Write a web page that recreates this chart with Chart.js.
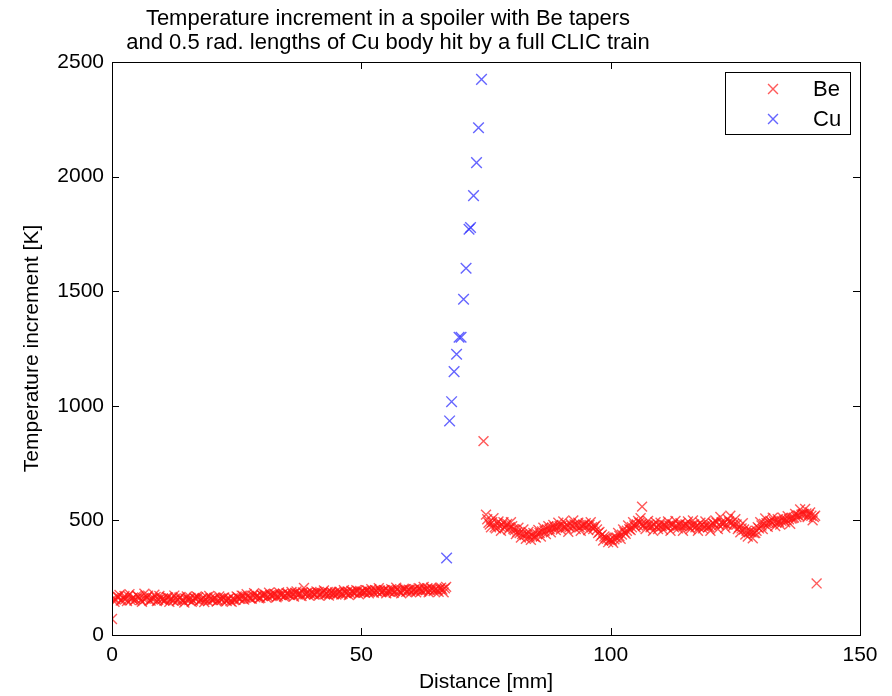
<!DOCTYPE html>
<html>
<head>
<meta charset="utf-8">
<script src="https://cdn.jsdelivr.net/npm/chart.js@4.4.1/dist/chart.umd.min.js"></script>
<style>
  html, body { margin: 0; padding: 0; background: #fff; }
  #wrap { width: 892px; height: 696px; }
</style>
</head>
<body>
<div id="wrap"><canvas id="myChart" width="892" height="696"></canvas></div>
<script>
// Be tapers: distance [mm] and temperature increment [K]
const beX = [
  0, 0.5, 1, 1.5, 2, 2.5, 3, 3.5, 4, 4.5, 5,
  5.5, 6, 6.5, 7, 7.5, 8, 8.5, 9, 9.5, 10,
  10.5, 11, 11.5, 12, 12.5, 13, 13.5, 14, 14.5, 15,
  15.5, 16, 16.5, 17, 17.5, 18, 18.5, 19, 19.5, 20,
  20.5, 21, 21.5, 22, 22.5, 23, 23.5, 24, 24.5, 25,
  25.5, 26, 26.5, 27, 27.5, 28, 28.5, 29, 29.5, 30,
  30.5, 31, 31.5, 32, 32.5, 33, 33.5, 34, 34.5, 35,
  35.5, 36, 36.5, 37, 37.5, 38, 38.5, 39, 39.5, 40,
  40.5, 41, 41.5, 42, 42.5, 43, 43.5, 44, 44.5, 45,
  45.5, 46, 46.5, 47, 47.5, 48, 48.5, 49, 49.5, 50,
  50.5, 51, 51.5, 52, 52.5, 53, 53.5, 54, 54.5, 55,
  55.5, 56, 56.5, 57, 57.5, 58, 58.5, 59, 59.5, 60,
  60.5, 61, 61.5, 62, 62.5, 63, 63.5, 64, 64.5, 65,
  65.5, 66, 66.5, 67,
  74.5,
  75, 75.5, 76, 76.5, 77, 77.5, 78, 78.5, 79, 79.5,
  80, 80.5, 81, 81.5, 82, 82.5, 83, 83.5, 84, 84.5,
  85, 85.5, 86, 86.5, 87, 87.5, 88, 88.5, 89, 89.5,
  90, 90.5, 91, 91.5, 92, 92.5, 93, 93.5, 94, 94.5,
  95, 95.5, 96, 96.5, 97, 97.5, 98, 98.5, 99, 99.5,
  100, 100.5, 101, 101.5, 102, 102.5, 103, 103.5, 104, 104.5,
  105, 105.5, 106, 106.5, 107, 107.5, 108, 108.5, 109, 109.5,
  110, 110.5, 111, 111.5, 112, 112.5, 113, 113.5, 114, 114.5,
  115, 115.5, 116, 116.5, 117, 117.5, 118, 118.5, 119, 119.5,
  120, 120.5, 121, 121.5, 122, 122.5, 123, 123.5, 124, 124.5,
  125, 125.5, 126, 126.5, 127, 127.5, 128, 128.5, 129, 129.5,
  130, 130.5, 131, 131.5, 132, 132.5, 133, 133.5, 134, 134.5,
  135, 135.5, 136, 136.5, 137, 137.5, 138, 138.5, 139, 139.5,
  140, 140.5, 141,
  106.3, 141.3
];
const beY = [
  70, 145, 168, 175, 152, 170, 148, 178, 160, 150, 172,
  162, 145, 180, 165, 150, 158, 176, 148, 170, 155,
  150, 165, 145, 160, 172, 148, 163, 152, 142, 168,
  152, 145, 162, 168, 148, 158, 144, 165, 170, 152,
  162, 146, 168, 152, 164, 148, 160, 145, 152, 168,
  158, 172, 155, 178, 165, 158, 182, 170, 160, 175,
  178, 162, 185, 170, 180, 165, 186, 174, 168, 182,
  175, 188, 168, 190, 178, 170, 205, 182, 172, 188,
  176, 190, 172, 182, 194, 180, 172, 188, 178, 176,
  188, 176, 195, 182, 174, 192, 184, 196, 178, 188,
  186, 196, 182, 200, 184, 192, 204, 186, 195, 182,
  190, 200, 184, 206, 192, 182, 202, 188, 198, 186,
  198, 186, 204, 190, 210, 196, 186, 206, 192, 200,
  188, 206, 186, 210,
  846,
  525, 490, 470, 510, 465, 495, 455, 492, 478, 460,
  492, 462, 440, 468, 425, 460, 420, 450, 415, 445,
  425, 458, 430, 468, 440, 475, 448, 480, 458, 490,
  460, 495, 468, 450, 485, 500, 462, 490, 455, 480,
  488, 458, 492, 462, 478, 445, 432, 412, 425, 405,
  418, 402, 425, 445, 420, 460, 442, 478, 458, 492,
  470, 498, 510, 478, 462, 498, 470, 455, 492, 462,
  490, 460, 478, 495, 455, 482, 498, 465, 488, 455,
  482, 495, 462, 500, 470, 455, 490, 465, 495, 470,
  455, 488, 500, 462, 515, 485, 468, 505, 520, 475,
  505, 462, 448, 488, 438, 430, 452, 422, 445, 470,
  492, 462, 508, 472, 498, 512, 475, 505, 482, 512,
  492, 518, 485, 510, 528, 522, 548, 528, 550, 515,
  535, 500, 520,
  560, 225
];
// Be points lying between the ones above
const beFillX = [
  0.25, 0.75, 1.25, 1.75, 2.25, 2.75, 3.25, 3.75, 4.25, 4.75,
  5.25, 5.75, 6.25, 6.75, 7.25, 7.75, 8.25, 8.75, 9.25, 9.75,
  10.25, 10.75, 11.25, 11.75, 12.25, 12.75, 13.25, 13.75, 14.25, 14.75,
  15.25, 15.75, 16.25, 16.75, 17.25, 17.75, 18.25, 18.75, 19.25, 19.75,
  20.25, 20.75, 21.25, 21.75, 22.25, 22.75, 23.25, 23.75, 24.25, 24.75,
  25.25, 25.75, 26.25, 26.75, 27.25, 27.75, 28.25, 28.75, 29.25, 29.75,
  30.25, 30.75, 31.25, 31.75, 32.25, 32.75, 33.25, 33.75, 34.25, 34.75,
  35.25, 35.75, 36.25, 36.75, 37.25, 37.75, 38.25, 38.75, 39.25, 39.75,
  40.25, 40.75, 41.25, 41.75, 42.25, 42.75, 43.25, 43.75, 44.25, 44.75,
  45.25, 45.75, 46.25, 46.75, 47.25, 47.75, 48.25, 48.75, 49.25, 49.75,
  50.25, 50.75, 51.25, 51.75, 52.25, 52.75, 53.25, 53.75, 54.25, 54.75,
  55.25, 55.75, 56.25, 56.75, 57.25, 57.75, 58.25, 58.75, 59.25, 59.75,
  60.25, 60.75, 61.25, 61.75, 62.25, 62.75, 63.25, 63.75, 64.25, 64.75,
  65.25, 65.75, 66.25, 66.75,
  75.25, 75.75, 76.25, 76.75, 77.25, 77.75, 78.25, 78.75, 79.25, 79.75,
  80.25, 80.75, 81.25, 81.75, 82.25, 82.75, 83.25, 83.75, 84.25, 84.75,
  85.25, 85.75, 86.25, 86.75, 87.25, 87.75, 88.25, 88.75, 89.25, 89.75,
  90.25, 90.75, 91.25, 91.75, 92.25, 92.75, 93.25, 93.75, 94.25, 94.75,
  95.25, 95.75, 96.25, 96.75, 97.25, 97.75, 98.25, 98.75, 99.25, 99.75,
  100.25, 100.75, 101.25, 101.75, 102.25, 102.75, 103.25, 103.75, 104.25, 104.75,
  105.25, 105.75, 106.25, 106.75, 107.25, 107.75, 108.25, 108.75, 109.25, 109.75,
  110.25, 110.75, 111.25, 111.75, 112.25, 112.75, 113.25, 113.75, 114.25, 114.75,
  115.25, 115.75, 116.25, 116.75, 117.25, 117.75, 118.25, 118.75, 119.25, 119.75,
  120.25, 120.75, 121.25, 121.75, 122.25, 122.75, 123.25, 123.75, 124.25, 124.75,
  125.25, 125.75, 126.25, 126.75, 127.25, 127.75, 128.25, 128.75, 129.25, 129.75,
  130.25, 130.75, 131.25, 131.75, 132.25, 132.75, 133.25, 133.75, 134.25, 134.75,
  135.25, 135.75, 136.25, 136.75, 137.25, 137.75, 138.25, 138.75, 139.25, 139.75,
  140.25, 140.75
];
const beFillY = [
  160, 155, 166, 150, 162, 158, 170, 152, 164, 156,
  168, 152, 160, 158, 172, 150, 162, 166, 154, 160,
  158, 152, 164, 156, 150, 160, 154, 166, 150, 158,
  156, 162, 150, 158, 164, 152, 160, 155, 148, 160,
  154, 160, 150, 158, 162, 152, 156, 148, 160, 154,
  164, 158, 170, 162, 168, 160, 172, 165, 170, 162,
  170, 176, 168, 174, 172, 178, 170, 176, 180, 172,
  180, 174, 178, 184, 176, 182, 186, 178, 184, 180,
  182, 178, 186, 180, 184, 178, 188, 182, 180, 186,
  182, 188, 180, 186, 190, 182, 188, 184, 192, 186,
  190, 186, 194, 188, 192, 196, 188, 194, 190, 196,
  194, 188, 196, 192, 198, 190, 194, 200, 192, 196,
  194, 200, 196, 202, 194, 198, 204, 196, 200, 198,
  196, 202, 198, 204,
  505, 482, 492, 470, 488, 475, 480, 468, 485, 470,
  475, 458, 450, 445, 440, 436, 438, 430, 432, 428,
  440, 445, 452, 455, 460, 462, 468, 470, 472, 475,
  478, 472, 480, 470, 475, 482, 478, 470, 476, 480,
  475, 480, 470, 472, 460, 450, 438, 430, 420, 415,
  412, 418, 425, 432, 438, 448, 455, 462, 470, 478,
  482, 490, 485, 480, 478, 482, 475, 480, 472, 478,
  475, 480, 472, 478, 482, 470, 476, 480, 474, 478,
  480, 472, 478, 482, 476, 470, 480, 474, 478, 472,
  478, 484, 490, 480, 492, 488, 482, 495, 490, 485,
  482, 470, 465, 460, 455, 450, 448, 445, 455, 465,
  478, 485, 488, 490, 492, 495, 490, 494, 498, 500,
  502, 505, 508, 512, 515, 520, 525, 528, 530, 525,
  520, 515
];

// Cu body
const cuX = [67.1, 67.7, 68.1, 68.6, 69.1, 69.6, 70.0, 70.5, 71.0, 71.6, 71.9, 72.5, 73.1, 73.5, 74.1];
const cuY = [336, 934, 1018, 1149, 1225, 1299, 1299, 1465, 1600, 1770, 1778, 1917, 2061, 2213, 2424];

const xTicks = [0, 50, 100, 150];
const yTicks = [0, 500, 1000, 1500, 2000, 2500];

const titleLines = [
  'Temperature increment in a spoiler with Be tapers',
  'and 0.5 rad. lengths of Cu body hit by a full CLIC train'
];

const beColor = 'rgba(255, 20, 20, 0.7)';
const cuColor = 'rgba(50, 50, 255, 0.75)';
const fontFam = '"Liberation Sans", Arial, sans-serif';

const toPoints = (xs, ys) => xs.map((x, i) => ({ x: x, y: ys[i] }));

// title, box around the axes, MATLAB style inward ticks and the legend
const frame = {
  id: 'frame',
  beforeDraw(chart) {
    const ctx = chart.ctx;
    ctx.save();
    ctx.fillStyle = '#000';
    ctx.font = '22px ' + fontFam;
    ctx.textAlign = 'center';
    ctx.textBaseline = 'middle';
    titleLines.forEach((t, i) => ctx.fillText(t, 388, 19 + i * 24));
    ctx.restore();
  },
  afterDraw(chart) {
    const ctx = chart.ctx;
    const a = chart.chartArea;
    const xs = chart.scales.x, ys = chart.scales.y;
    const len = 7;
    ctx.save();
    ctx.strokeStyle = '#000';
    ctx.lineWidth = 1;
    ctx.strokeRect(a.left + 0.5, a.top + 0.5, a.right - a.left, a.bottom - a.top);
    ctx.beginPath();
    xTicks.forEach(v => {
      const p = Math.round(xs.getPixelForValue(v)) + 0.5;
      ctx.moveTo(p, a.bottom); ctx.lineTo(p, a.bottom - len);
      ctx.moveTo(p, a.top); ctx.lineTo(p, a.top + len);
    });
    yTicks.forEach(v => {
      const p = Math.round(ys.getPixelForValue(v)) + 0.5;
      ctx.moveTo(a.left, p); ctx.lineTo(a.left + len, p);
      ctx.moveTo(a.right, p); ctx.lineTo(a.right - len, p);
    });
    ctx.stroke();

    const lx = a.right - 135, ly = a.top + 10, lw = 125, lh = 62;
    ctx.fillStyle = '#fff';
    ctx.fillRect(lx, ly, lw, lh);
    ctx.strokeRect(lx + 0.5, ly + 0.5, lw, lh);
    const items = [['Be', beColor], ['Cu', cuColor]];
    items.forEach((it, i) => {
      const cy = ly + 17 + i * 30;
      ctx.strokeStyle = it[1];
      ctx.lineWidth = 1.4;
      Chart.helpers.drawPoint(ctx, { pointStyle: 'crossRot', radius: 7, borderWidth: 1.4, rotation: 0 }, lx + 48, cy);
      ctx.fillStyle = '#000';
      ctx.font = '22px ' + fontFam;
      ctx.textBaseline = 'middle';
      ctx.textAlign = 'left';
      ctx.fillText(it[0], lx + 88, cy + 1);
    });
    ctx.restore();
  }
};

document.addEventListener('DOMContentLoaded', function () {
  const ctx = document.getElementById('myChart').getContext('2d');
  const myChart = new Chart(ctx, {
    type: 'scatter',
    data: {
      datasets: [{
        label: 'Be',
        data: toPoints(beX.concat(beFillX), beY.concat(beFillY)),
        pointStyle: 'crossRot',
        pointRadius: 7,
        pointBorderWidth: 1.4,
        borderColor: beColor,
        backgroundColor: beColor
      }, {
        label: 'Cu',
        data: toPoints(cuX, cuY),
        pointStyle: 'crossRot',
        pointRadius: 7.5,
        pointBorderWidth: 1.4,
        borderColor: cuColor,
        backgroundColor: cuColor
      }]
    },
    options: {
      responsive: false,
      animation: false,
      layout: { padding: { left: 0, right: 32, top: 62, bottom: 0 } },
      plugins: {
        legend: { display: false },
        tooltip: { enabled: false },
        title: { display: false }
      },
      scales: {
        x: {
          type: 'linear',
          min: 0, max: 150,
          afterFit: s => { s.height = 61; },
          afterBuildTicks: s => { s.ticks = xTicks.map(v => ({ value: v })); },
          grid: { display: false, drawTicks: false },
          border: { display: false },
          ticks: { color: '#000', padding: 8, font: { family: fontFam, size: 21 }, callback: v => String(v) },
          title: {
            display: true, text: 'Distance [mm]', color: '#000',
            font: { family: fontFam, size: 21 }, padding: { top: 0, bottom: 1 }
          }
        },
        y: {
          type: 'linear',
          min: 0, max: 2500,
          afterFit: s => { s.width = 112; },
          afterBuildTicks: s => { s.ticks = yTicks.map(v => ({ value: v })); },
          grid: { display: false, drawTicks: false },
          border: { display: false },
          ticks: { color: '#000', padding: 8, font: { family: fontFam, size: 21 }, callback: v => String(v) },
          title: {
            display: true, text: 'Temperature increment [K]', color: '#000',
            font: { family: fontFam, size: 21 }, padding: { top: 20, bottom: 0 }
          }
        }
      }
    },
    plugins: [frame]
  });
});
</script>
</body>
</html>
